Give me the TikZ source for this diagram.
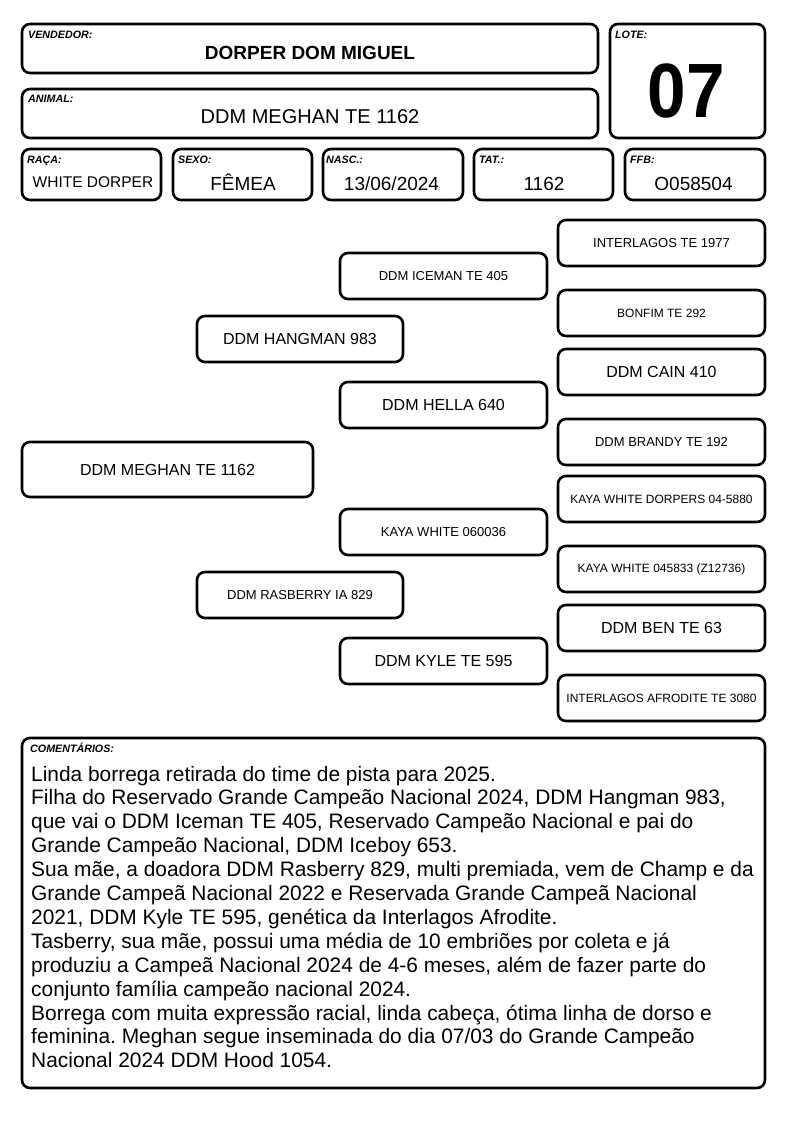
\documentclass[tikz,border=0pt]{standalone}
\usepackage{fontspec}
\setmainfont{Liberation Sans}
\usepackage{graphicx}
\frenchspacing
\begin{document}
\begin{tikzpicture}[x=1pt,y=-1pt,
  box/.style={draw, line width=2.6pt, rounded corners=8pt, inner sep=0pt, fill=white, align=center},
  lab/.style={anchor=base west, inner sep=0pt, font=\fontsize{10.7}{12}\selectfont\bfseries\itshape},
  val/.style={anchor=base, inner sep=0pt, font=\fontsize{19}{22}\selectfont},
  pbig/.style={font=\fontsize{16}{18}\selectfont},
  pmid/.style={font=\fontsize{13}{15}\selectfont},
  psml/.style={font=\fontsize{12}{14}\selectfont},
  g3/.style={box, minimum width=207pt, minimum height=46pt},
  g2/.style={box, minimum width=207pt, minimum height=46pt},
  g1/.style={box, minimum width=206pt, minimum height=46pt},
  rowbox/.style={box, minimum height=51pt}
]
\fill[white] (0,0) rectangle (794,1123);
\useasboundingbox (0,0) rectangle (794,1123);

% header
\node[box, minimum width=576pt, minimum height=49pt] (vend) at (310,48.5) {};
\node[lab] (vendl) at (28,38.5) {VENDEDOR:};
\node[val, font=\fontsize{19}{22}\selectfont\bfseries] (vendv) at (310,60) {DORPER DOM MIGUEL};

\node[box, minimum width=155pt, minimum height=114pt] (lote) at (687.5,81) {};
\node[lab] (lotel) at (615,38.5) {LOTE:};
\node[anchor=base, inner sep=0pt, font=\fontsize{77}{80}\selectfont\bfseries] (lotev) at (686.5,118) {\scalebox{0.9}[1]{07}};

\node[box, minimum width=576pt, minimum height=49pt] (animal) at (310,113.5) {};
\node[lab] (animall) at (28,102.5) {ANIMAL:};
\node[val, font=\fontsize{20}{23}\selectfont] (animalv) at (310,123.3) {DDM MEGHAN TE 1162};

\node[rowbox, minimum width=139pt] (raca) at (91.5,174.5) {};
\node[lab] (racal) at (27,163.5) {RAÇA:};
\node[val, font=\fontsize{15.5}{18}\selectfont] (racav) at (93,188) {WHITE DORPER};

\node[rowbox, minimum width=139pt] (sexo) at (242.5,174.5) {};
\node[lab] (sexol) at (178,163.5) {SEXO:};
\node[val] (sexov) at (243,191) {FÊMEA};

\node[rowbox, minimum width=140pt] (nasc) at (393,174.5) {};
\node[lab] (nascl) at (326,163.5) {NASC.:};
\node[val] (nascv) at (391.5,191) {13/06/2024};

\node[rowbox, minimum width=139pt] (tat) at (543.5,174.5) {};
\node[lab] (tatl) at (479,163.5) {TAT.:};
\node[val] (tatv) at (544,191) {1162};

\node[rowbox, minimum width=140pt] (ffb) at (695,174.5) {};
\node[lab] (ffbl) at (630,163.5) {FFB:};
\node[val] (ffbv) at (693.5,191) {O058504};

% pedigree
\node[box, minimum width=291pt, minimum height=55pt, pbig] (main) at (167.5,469.5) {DDM MEGHAN TE 1162};

\node[g1, pbig] (sire) at (300,339) {DDM HANGMAN 983};
\node[g1, pmid] (dam) at (300,595) {DDM RASBERRY IA 829};

\node[g2, pmid] (ss) at (443.5,276) {DDM ICEMAN TE 405};
\node[g2, pbig] (sd) at (443.5,405) {DDM HELLA 640};
\node[g2, pmid] (ds) at (443.5,532) {KAYA WHITE 060036};
\node[g2, pbig] (dd) at (443.5,661) {DDM KYLE TE 595};

\node[g3, pmid] (sss) at (661.5,243) {INTERLAGOS TE 1977};
\node[g3, psml] (ssd) at (661.5,313) {BONFIM TE 292};
\node[g3, pbig] (sds) at (661.5,372) {DDM CAIN 410};
\node[g3, pmid] (sdd) at (661.5,442) {DDM BRANDY TE 192};
\node[g3, psml] (dss) at (661.5,499) {KAYA WHITE DORPERS 04-5880};
\node[g3, psml] (dsd) at (661.5,569) {KAYA WHITE 045833 (Z12736)};
\node[g3, pbig] (dds) at (661.5,628) {DDM BEN TE 63};
\node[g3, psml] (ddd) at (661.5,698) {INTERLAGOS AFRODITE TE 3080};

% comments
\node[box, minimum width=743pt, minimum height=350pt] (com) at (393.5,913) {};
\node[lab] (coml) at (30,752) {COMENTÁRIOS:};
\node[anchor=base west, inner sep=0pt, align=left, font=\fontsize{20.9}{23.9}\selectfont] (comv) at (31,1067.8) {%
Linda borrega retirada do time de pista para 2025.\\
Filha do Reservado Grande Campeão Nacional 2024, DDM Hangman 983,\\
que vai o DDM Iceman TE 405, Reservado Campeão Nacional e pai do\\
Grande Campeão Nacional, DDM Iceboy 653.\\
Sua mãe, a doadora DDM Rasberry 829, multi premiada, vem de Champ e da\\
Grande Campeã Nacional 2022 e Reservada Grande Campeã Nacional\\
2021, DDM Kyle TE 595, genética da Interlagos Afrodite.\\
Tasberry, sua mãe, possui uma média de 10 embriões por coleta e já\\
produziu a Campeã Nacional 2024 de 4-6 meses, além de fazer parte do\\
conjunto família campeão nacional 2024.\\
Borrega com muita expressão racial, linda cabeça, ótima linha de dorso e\\
feminina. Meghan segue inseminada do dia 07/03 do Grande Campeão\\
Nacional 2024 DDM Hood 1054.};
\end{tikzpicture}
\end{document}
